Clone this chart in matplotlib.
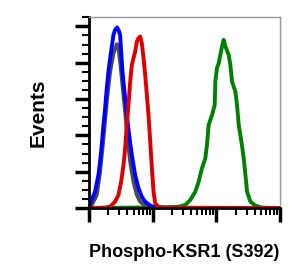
import numpy as np
import matplotlib
matplotlib.use('Agg')
import matplotlib.pyplot as plt
from matplotlib.ticker import LogLocator, MultipleLocator, NullFormatter

plt.rcParams['font.family'] = ['Liberation Sans', 'DejaVu Sans']

# intensities as log10 values (axis spans 10^2 .. 10^5), counts normalised to ~100
blue_log = [2.0, 2.042, 2.094, 2.147, 2.173, 2.199, 2.226, 2.252, 2.278, 2.304, 2.331, 2.357, 2.383,
            2.409, 2.441, 2.462, 2.488, 2.504, 2.525, 2.556, 2.593, 2.630, 2.672, 2.724, 2.777, 2.829,
            2.882, 2.961, 3.039, 3.2, 5.0]
blue_cnt = [0.7, 4.4, 9.0, 18.2, 25.5, 34.7, 45.7, 54.9, 65.9, 75.1, 82.5, 88.9, 95.3,
            98.1, 99.4, 98.1, 95.3, 86.1, 75.1, 64.1, 51.2, 40.2, 29.2, 18.2, 10.8, 6.2,
            3.5, 1.3, 0.4, 0.0, 0.0]

gray_log = [2.0, 2.042, 2.121, 2.173, 2.226, 2.278, 2.331, 2.383, 2.436, 2.462, 2.488, 2.525, 2.567,
            2.609, 2.646, 2.698, 2.751, 2.803, 2.882, 2.961, 3.1]
gray_cnt = [0.0, 1.7, 7.2, 20.0, 38.4, 58.6, 75.1, 85.2, 90.2, 88.0, 80.6, 67.8, 53.1,
            36.5, 25.5, 14.5, 7.2, 3.5, 1.3, 0.2, 0.0]

red_log = [2.0, 2.252, 2.331, 2.409, 2.462, 2.504, 2.541, 2.567, 2.593, 2.619, 2.646, 2.672, 2.698,
           2.724, 2.751, 2.777, 2.803, 2.829, 2.856, 2.882, 2.908, 2.934, 2.961, 2.987, 3.013, 3.039,
           3.092, 3.171, 5.0]
red_cnt = [0.0, 0.2, 0.7, 3.5, 7.2, 14.5, 23.7, 32.9, 45.7, 56.7, 69.6, 78.8, 82.5,
           86.1, 91.6, 93.5, 94.4, 90.7, 82.5, 73.3, 62.3, 51.2, 36.5, 21.9, 9.0, 2.6,
           0.6, 0.2, 0.0]

green_log = [2.0, 3.197, 3.407, 3.512, 3.591, 3.669, 3.722, 3.774, 3.827, 3.853, 3.879, 3.932, 3.974,
             3.984, 4.010, 4.037, 4.063, 4.089, 4.115, 4.142, 4.194, 4.220, 4.247, 4.299, 4.325, 4.352,
             4.394, 4.430, 4.457, 4.483, 4.535, 4.614, 4.719, 5.0]
green_cnt = [0.0, 0.4, 0.7, 1.7, 4.4, 9.0, 14.5, 21.9, 27.4, 34.7, 45.7, 51.2, 56.7,
             69.6, 77.0, 79.7, 84.3, 88.9, 92.6, 88.9, 84.3, 78.8, 69.6, 64.1, 56.7, 45.7,
             36.5, 27.4, 18.2, 9.0, 3.5, 1.3, 0.2, 0.0]

fig = plt.figure(figsize=(3.04, 2.70), dpi=100)
ax = fig.add_axes([0.293, 0.2296, 0.628, 0.7064])

lw = 2.8
ax.plot(10 ** np.array(green_log), green_cnt, color='#008000', lw=lw)
ax.plot(10 ** np.array(gray_log), gray_cnt, color='#4d4d4d', lw=lw)
ax.plot(10 ** np.array(blue_log), blue_cnt, color='#0000ff', lw=lw)
ax.plot(10 ** np.array(red_log), red_cnt, color='#dd0000', lw=lw)

ax.set_xscale('log')
ax.set_xlim(1e2, 1e5)
ax.set_ylim(0, 105)

ax.xaxis.set_major_locator(LogLocator(base=10, numticks=10))
ax.xaxis.set_minor_locator(LogLocator(base=10, subs=np.arange(2, 10), numticks=20))
ax.xaxis.set_major_formatter(NullFormatter())
ax.xaxis.set_minor_formatter(NullFormatter())
ax.yaxis.set_major_locator(MultipleLocator(20))
ax.yaxis.set_minor_locator(MultipleLocator(5))
ax.yaxis.set_major_formatter(NullFormatter())

ax.tick_params(which='major', direction='out', length=10, width=2.5, color='black')
ax.tick_params(which='minor', direction='out', length=5, width=1.5, color='black')
ax.tick_params(top=False, right=False)

for s in ['left', 'bottom']:
    ax.spines[s].set_color('black')
    ax.spines[s].set_linewidth(2)
for s in ['top', 'right']:
    ax.spines[s].set_color('#999999')
    ax.spines[s].set_linewidth(1)

ax.set_xlabel('Phospho-KSR1 (S392)', fontsize=13, fontweight='bold', labelpad=12.5)
ax.set_ylabel('Events', fontsize=15, fontweight='bold', labelpad=16)

fig.savefig('out.png', dpi=100)
